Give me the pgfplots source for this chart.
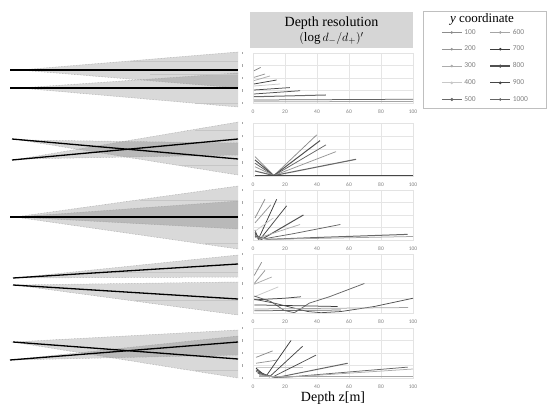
\documentclass[border=0pt]{standalone}
\usepackage{pgfplots}
\pgfplotsset{compat=1.18}
\usepackage{fontspec}
\setmainfont{Liberation Serif}
\newfontfamily\calib{Carlito}
\definecolor{c100}{RGB}{140,140,140}
\definecolor{c200}{RGB}{150,150,150}
\definecolor{c300}{RGB}{172,172,172}
\definecolor{c400}{RGB}{200,200,200}
\definecolor{c500}{RGB}{105,105,105}
\definecolor{c600}{RGB}{165,165,165}
\definecolor{c700}{RGB}{60,60,60}
\definecolor{c800}{RGB}{80,80,80}
\definecolor{c900}{RGB}{70,70,70}
\definecolor{c1000}{RGB}{100,100,100}
\pgfplotsset{
  rp/.style={
    scale only axis, width=160pt, anchor=south west,
    xmin=0, xmax=100, ymin=0, ymax=4,
    xtick={0,20,...,100}, ytick={0,1,2,3,4},
    grid=major, grid style={gray!20, line width=0.3pt},
    axis line style={gray!22, line width=0.3pt},
    major tick length=0pt,
    /pgf/number format/assume math mode=true,
    xticklabel style={font=\calib\fontsize{5.5}{6}\selectfont, text=gray, yshift=-3pt},
    yticklabel={\rule{0.5pt}{2.5pt}},
    yticklabel style={text=gray!70, xshift=-7pt},
    every axis plot/.append style={line width=0.75pt},
  },
  wedge/.style={fill=black, fill opacity=0.15, draw=none},
  wedge edge/.style={gray!80, densely dotted, line width=0.5pt},
  ray/.style={black, line width=1.3pt},
  thinl/.style={gray!45, line width=0.4pt},
  lgimg/.style={legend image code/.code={
      \draw[##1] (0cm,0cm) -- (0.7cm,0cm);
      \fill[##1] (0.35cm,0cm) circle (0.9pt);}},
}
\begin{document}
\begin{tikzpicture}
\path[use as bounding box] (0,0) rectangle (547pt,404pt);
% ---------- overlay axis in pixel coordinates ----------
\begin{axis}[at={(0,0)}, anchor=south west, scale only axis,
  width=547pt, height=404pt, xmin=0, xmax=547, ymin=0, ymax=404,
  y dir=reverse, hide axis, clip=false]
% Row 1
\addplot[wedge] coordinates {(20,70) (238,52) (238,88)} -- cycle;
\addplot[wedge] coordinates {(20,88) (238,73) (238,107)} -- cycle;
\addplot[wedge edge] coordinates {(238,52) (20,70) (238,88)};
\addplot[wedge edge] coordinates {(238,73) (20,88) (238,107)};
\addplot[thinl] coordinates {(130,61) (238,61)};
\addplot[thinl] coordinates {(150,74) (238,74)};
\addplot[thinl] coordinates {(195,103) (238,103)};
\addplot[ray] coordinates {(10,70) (238,70)};
\addplot[ray] coordinates {(10,88) (238,88)};
% Row 2
\addplot[wedge] coordinates {(20,140) (238,143) (238,175)} -- cycle;
\addplot[wedge] coordinates {(20,159) (238,122) (238,155)} -- cycle;
\addplot[wedge edge] coordinates {(238,143) (20,140) (238,175)};
\addplot[wedge edge] coordinates {(238,122) (20,159) (238,155)};
\addplot[thinl] coordinates {(195,130) (238,130)};
\addplot[thinl] coordinates {(180,165) (238,165)};
\addplot[ray] coordinates {(12,139) (238,159)};
\addplot[ray] coordinates {(12,160) (238,139)};
% Row 3
\addplot[wedge] coordinates {(15,217) (238,186) (238,249)} -- cycle;
\addplot[wedge] coordinates {(15,217) (238,201) (238,229)} -- cycle;
\addplot[wedge edge] coordinates {(238,186) (15,217) (238,249)};
\addplot[wedge edge] coordinates {(238,201) (15,217) (238,229)};
\addplot[thinl] coordinates {(205,243) (238,243)};
\addplot[thinl] coordinates {(140,200) (238,200)};
\addplot[ray] coordinates {(10,217) (238,217)};
% Row 4
\addplot[wedge] coordinates {(15,278) (238,255) (238,277)} -- cycle;
\addplot[wedge] coordinates {(15,285) (238,282) (238,315)} -- cycle;
\addplot[wedge edge] coordinates {(238,255) (15,278) (238,277)};
\addplot[wedge edge] coordinates {(238,282) (15,285) (238,315)};
\addplot[thinl] coordinates {(115,272) (238,272)};
\addplot[thinl] coordinates {(135,300) (238,300)};
\addplot[ray] coordinates {(13,278) (238,264)};
\addplot[ray] coordinates {(13,285) (238,299)};
% Row 5
\addplot[wedge] coordinates {(13,342) (238,330) (238,378)} -- cycle;
\addplot[wedge] coordinates {(10,360) (238,336) (238,355)} -- cycle;
\addplot[wedge edge] coordinates {(238,330) (13,342) (238,378)};
\addplot[wedge edge] coordinates {(238,336) (10,360) (238,355)};
\addplot[thinl] coordinates {(195,370) (238,370)};
\addplot[ray] coordinates {(13,342) (238,359)};
\addplot[ray] coordinates {(10,360) (238,342)};
% Title box, legend frame, x label
\node[fill=gray!32, minimum width=163pt, minimum height=36pt, inner sep=0pt,
      align=center, font=\fontsize{14}{16}\selectfont]
  at (axis cs:331.5,30.5) {Depth resolution\\[-1pt]{\fontsize{13}{14}\selectfont$(\log d_{-}/d_{+})'$}};
\draw[gray!50, line width=0.4pt] (axis cs:423,11) rectangle (axis cs:546,108);
\node[font=\fontsize{13}{14}\selectfont] at (axis cs:482,19) {\textit{y} coordinate};
\node[font=\fontsize{14}{15}\selectfont, anchor=base] at (axis cs:333,401) {Depth z[m]};
\end{axis}
% ---------- Row 1 ----------
\begin{axis}[rp, at={(253pt,301pt)}, height=50pt,
  legend columns=2,
  legend style={at={(1.175,1.52)}, anchor=north west, draw=none, fill=none,
    font=\calib\fontsize{7.5}{8}\selectfont, text=gray, row sep=6.3pt,
    inner sep=0pt, /tikz/every even column/.append style={column sep=12pt}},
  legend cell align=left]
\addlegendimage{lgimg, c100, line width=0.8pt}\addlegendentry{100}
\addlegendimage{lgimg, c600, line width=0.8pt}\addlegendentry{600}
\addlegendimage{lgimg, c200, line width=0.8pt}\addlegendentry{200}
\addlegendimage{lgimg, c700, line width=0.8pt}\addlegendentry{700}
\addlegendimage{lgimg, c300, line width=0.8pt}\addlegendentry{300}
\addlegendimage{lgimg, c800, line width=1.2pt}\addlegendentry{800}
\addlegendimage{lgimg, c400, line width=0.8pt}\addlegendentry{400}
\addlegendimage{lgimg, c900, line width=0.8pt}\addlegendentry{900}
\addlegendimage{lgimg, c500, line width=1.2pt}\addlegendentry{500}
\addlegendimage{lgimg, c1000, line width=0.8pt}\addlegendentry{1000}
\addplot[c100, forget plot] coordinates {(0.6,2.58) (4.8,2.85)};
\addplot[c200, forget plot] coordinates {(0.6,2.05) (7.5,2.32)};
\addplot[c300, forget plot] coordinates {(0.6,1.79) (10.6,2.16)};
\addplot[c700, forget plot] coordinates {(0.6,1.52) (14.8,1.84)};
\addplot[c400, forget plot] coordinates {(0.6,1.36) (16.9,1.52)};
\addplot[c900, forget plot] coordinates {(0.6,1.04) (23,1.23)};
\addplot[c800, forget plot] coordinates {(0.6,0.72) (29.4,0.98)};
\addplot[c500, forget plot, line width=1pt] coordinates {(0.6,0.5) (45.6,0.64)};
\addplot[c1000, forget plot] coordinates {(0.6,0.24) (100,0.3)};
\addplot[c600, forget plot] coordinates {(0.6,0.1) (100,0.12)};
\end{axis}
% ---------- Row 2 ----------
\begin{axis}[rp, at={(253pt,228pt)}, height=53pt]
\addplot[c100] coordinates {(1.25,1.46) (13,0.03) (39.8,3.1)};
\addplot[c800, line width=1pt] coordinates {(1.25,1.21) (13,0.03) (41.9,2.67)};
\addplot[c1000] coordinates {(1.25,0.96) (13,0.03) (45.6,2.35)};
\addplot[c200] coordinates {(1.25,0.70) (13,0.03) (51.9,1.84)};
\addplot[c500, line width=1.1pt] coordinates {(1.25,0.38) (13,0.03) (64.4,1.26)};
\addplot[c300] coordinates {(1.25,0.06) (100,0.06)};
\addplot[c400] coordinates {(1.25,0.05) (100,0.05)};
\addplot[c600] coordinates {(1.25,0.04) (100,0.04)};
\addplot[c700] coordinates {(1.25,0.03) (100,0.03)};
\addplot[c900] coordinates {(1.25,0.02) (100,0.02)};
\end{axis}
% ---------- Row 3 ----------
\begin{axis}[rp, at={(253pt,164pt)}, height=50pt]
\addplot[c100] coordinates {(1.25,1.76) (7.5,3.27)};
\addplot[c200] coordinates {(1.25,1.37) (11.1,2.81)};
\addplot[c700] coordinates {(1.25,0.8) (3.3,0.05) (14.8,3.26)};
\addplot[c400] coordinates {(1.25,0.7) (12.7,1.76)};
\addplot[c900] coordinates {(1.25,0.6) (4.4,0.05) (21,2.73)};
\addplot[c800, line width=1pt] coordinates {(1.25,0.5) (5.4,0.05) (31.5,2.0)};
\addplot[c300] coordinates {(1.25,0.4) (4.4,0.2) (29.4,1.24)};
\addplot[c1000] coordinates {(1.25,0.35) (7.1,0.1) (25,0.5) (35,0.75) (54.6,1.24)};
\addplot[c500, line width=1pt] coordinates {(1.25,0.3) (9.2,0.05) (40,0.2) (96.7,0.45)};
\addplot[c600] coordinates {(1.25,0.2) (10,0.05) (100,0.28)};
\end{axis}
% ---------- Row 4 ----------
\begin{axis}[rp, at={(253pt,91pt)}, height=59pt]
\addplot[c100] coordinates {(0.8,2.55) (5.4,3.44)};
\addplot[c200] coordinates {(0.8,2.0) (7.5,2.89)};
\addplot[c300] coordinates {(0.8,1.95) (11.7,2.44)};
\addplot[c400] coordinates {(0.8,1.1) (15.8,1.77)};
\addplot[c1000] coordinates {(0.8,1.15) (11.25,0.77) (19.6,0.17) (25.8,0.02) (28.9,0.22) (35.2,0.67) (47.7,1.1) (69.6,2.0)};
\addplot[c900] coordinates {(0.8,0.89) (19.6,1.0) (30,1.1)};
\addplot[c700] coordinates {(0.8,0.55) (52.9,0.44)};
\addplot[c800] coordinates {(0.8,0.93) (13.3,0.67) (34.2,0.1) (42.5,0.02) (55,0.1) (75.8,0.44) (100,1.0)};
\addplot[c600] coordinates {(0.8,0.27) (97,0.37)};
\addplot[c500] coordinates {(0.8,0.15) (55,0.2)};
\end{axis}
% ---------- Row 5 ----------
\begin{axis}[rp, at={(253pt,26pt)}, height=50pt]
\addplot[c100] coordinates {(1.9,1.65) (12.3,2.17)};
\addplot[c200] coordinates {(1.9,1.18) (15.4,1.44)};
\addplot[c400] coordinates {(1.9,0.87) (31,0.87)};
\addplot[c700] coordinates {(1.9,0.79) (8.1,0.13) (23.75,3.0)};
\addplot[c900] coordinates {(1.9,0.65) (10.2,0.08) (31,2.54)};
\addplot[c800] coordinates {(1.9,0.52) (12.3,0.08) (39.4,1.83)};
\addplot[c500, line width=1pt] coordinates {(2.9,0.39) (14.4,0.03) (59.2,1.18)};
\addplot[c1000] coordinates {(3.9,0.26) (17.5,0.03) (96.7,0.87)};
\addplot[c300] coordinates {(4,0.2) (20,0.05) (100,0.72)};
\addplot[c600] coordinates {(4,0.1) (100,0.1)};
\end{axis}
\end{tikzpicture}
\end{document}
